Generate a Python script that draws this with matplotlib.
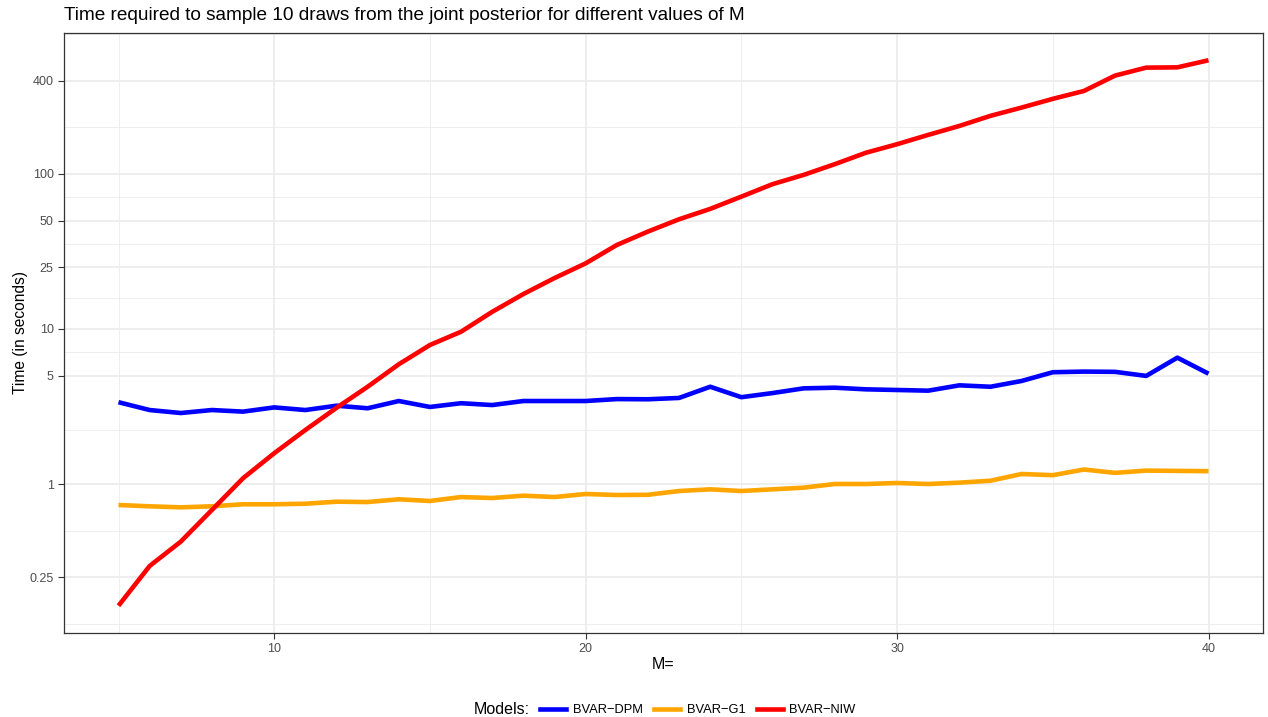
import numpy as np
import matplotlib.pyplot as plt
from matplotlib.lines import Line2D

plt.rcParams['font.family'] = ['Liberation Sans', 'DejaVu Sans']

# Data
M = list(range(5, 41))
dpm = [3.37, 3.0, 2.87, 3.0, 2.93, 3.12, 3.0, 3.2, 3.08, 3.43, 3.14, 3.32,
       3.23, 3.43, 3.43, 3.43, 3.53, 3.52, 3.59, 4.24, 3.63, 3.86, 4.14, 4.18,
       4.08, 4.04, 4.0, 4.33, 4.24, 4.62, 5.26, 5.31, 5.29, 4.98, 6.53, 5.15]
g1 = [0.732, 0.718, 0.707, 0.718, 0.74, 0.74, 0.746, 0.769, 0.765, 0.797, 0.777, 0.824,
      0.812, 0.841, 0.824, 0.862, 0.849, 0.852, 0.901, 0.924, 0.901, 0.924, 0.947, 1.0,
      1.0, 1.015, 1.0, 1.02, 1.05, 1.16, 1.14, 1.24, 1.18, 1.22, 1.215, 1.21]
niw = [0.164, 0.296, 0.425, 0.68, 1.09, 1.58, 2.23, 3.1, 4.24, 5.92, 7.88, 9.6,
       12.9, 16.8, 21.3, 26.5, 34.8, 42.5, 51, 59.5, 71.4, 85.9, 98.6, 115.6,
       137, 155.5, 178.6, 204, 237, 268, 305, 343, 431, 485, 487, 541]

series = ['BVAR\u2212DPM', 'BVAR\u2212G1', 'BVAR\u2212NIW']
colors = ['blue', 'orange', 'red']
y_breaks = [0.25, 1, 5, 10, 25, 50, 100, 400]
x_breaks = [10, 20, 30, 40]

fig = plt.figure(figsize=(12.68, 7.17), dpi=100)
ax = fig.add_axes([64 / 1268, 1 - 633 / 717, 1199 / 1268, 600 / 717])

# ggplot-like minor gridlines (midpoints in log space)
lb = np.log10(y_breaks)
ext = np.concatenate([[lb[0] - (lb[1] - lb[0])], lb, [lb[-1] + (lb[1] - lb[0])]])
y_minor = 10 ** ((ext[:-1] + ext[1:]) / 2)
for v in y_minor:
    ax.axhline(v, color='#EBEBEB', lw=0.6, zorder=0)
for v in y_breaks:
    ax.axhline(v, color='#EBEBEB', lw=1.2, zorder=0)
for v in [5, 15, 25, 35]:
    ax.axvline(v, color='#EBEBEB', lw=0.6, zorder=0)
for v in x_breaks:
    ax.axvline(v, color='#EBEBEB', lw=1.2, zorder=0)

for vals, c in zip([dpm, g1, niw], colors):
    ax.plot(M, vals, color=c, lw=3.3, solid_capstyle='butt', zorder=3)

ax.set_yscale('log')
ymin, ymax = min(niw), max(niw)
span = np.log10(ymax) - np.log10(ymin)
ax.set_ylim(10 ** (np.log10(ymin) - 0.05 * span), 10 ** (np.log10(ymax) + 0.05 * span))
ax.set_xlim(5 - 0.05 * 35, 40 + 0.05 * 35)
ax.set_yticks(y_breaks)
ax.set_yticklabels(['0.25', '1', '5', '10', '25', '50', '100', '400'])
ax.minorticks_off()
ax.set_xticks(x_breaks)
ax.tick_params(axis='both', length=4, width=0.8, color='#333333', labelcolor='#4D4D4D',
               labelsize=9)
for s in ax.spines.values():
    s.set_color('#333333')
    s.set_linewidth(0.9)

ax.set_xlabel('M=', fontsize=11.5, labelpad=1)
ax.set_ylabel('Time (in seconds)', fontsize=11.2, labelpad=1)
ax.set_title('Time required to sample 10 draws from the joint posterior for different values of M',
             loc='left', fontsize=13.7, pad=9)

handles = [Line2D([], [], color=c, lw=3.3) for c in colors]
fig.legend(handles, series, loc='center', bbox_to_anchor=(698 / 1268, 1 - 710 / 717), ncol=3,
           frameon=False, fontsize=9.3, handlelength=2.0, columnspacing=0.9, handletextpad=0.5)
fig.text(474 / 1268, 1 - 710 / 717, 'Models:', fontsize=11.5, va='center', ha='left')

fig.savefig('out.png', dpi=100)
